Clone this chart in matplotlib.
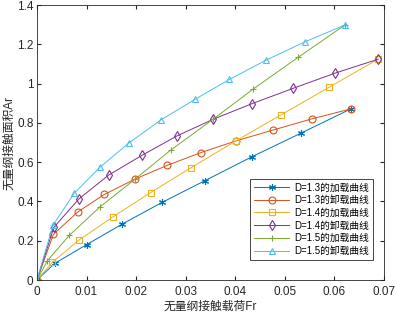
import matplotlib
matplotlib.use("Agg")
import matplotlib.pyplot as plt

plt.rcParams['font.family'] = ['Liberation Sans', 'Noto Sans CJK SC', 'DejaVu Sans']

# D=1.3 loading / unloading
fr_13_load = [0, 0.0036, 0.0100, 0.0172, 0.0253, 0.0339, 0.0434, 0.0532, 0.0633]
ar_13_load = [0, 0.085, 0.180, 0.285, 0.396, 0.506, 0.628, 0.747, 0.871]
fr_13_unload = [0, 0.0033, 0.0082, 0.0136, 0.0198, 0.0263, 0.0330, 0.0401, 0.0477, 0.0554, 0.0633]
ar_13_unload = [0, 0.232, 0.346, 0.436, 0.514, 0.584, 0.648, 0.708, 0.764, 0.820, 0.871]

# D=1.4
fr_14_load = [0, 0.0031, 0.0085, 0.0153, 0.0229, 0.0311, 0.0401, 0.0492, 0.0589, 0.0688]
ar_14_load = [0, 0.090, 0.204, 0.321, 0.445, 0.572, 0.708, 0.840, 0.981, 1.124]
fr_14_unload = [0, 0.0034, 0.0085, 0.0145, 0.0212, 0.0282, 0.0355, 0.0434, 0.0517, 0.0601, 0.0688]
ar_14_unload = [0, 0.268, 0.414, 0.535, 0.635, 0.733, 0.818, 0.898, 0.976, 1.053, 1.124]

# D=1.5
fr_15_load = [0, 0.0021, 0.0065, 0.0127, 0.0198, 0.0270, 0.0355, 0.0436, 0.0527, 0.0621]
ar_15_load = [0, 0.098, 0.227, 0.372, 0.514, 0.662, 0.818, 0.972, 1.134, 1.298]
fr_15_unload = [0, 0.0032, 0.0075, 0.0127, 0.0186, 0.0250, 0.0319, 0.0388, 0.0462, 0.0540, 0.0621]
ar_15_unload = [0, 0.278, 0.441, 0.574, 0.699, 0.815, 0.920, 1.021, 1.119, 1.212, 1.298]

labels = ['D=1.3的加载曲线', 'D=1.3的卸载曲线', 'D=1.4的加载曲线',
          'D=1.4的卸载曲线', 'D=1.5的加载曲线', 'D=1.5的卸载曲线']
colors = ['#0072BD', '#D95319', '#EDB120', '#7E2F8E', '#77AC30', '#4DBEEE']
markers = [(6, 2, 0), 'o', 's', 'd', '+', '^']

series = [(fr_13_load, ar_13_load), (fr_13_unload, ar_13_unload),
          (fr_14_load, ar_14_load), (fr_14_unload, ar_14_unload),
          (fr_15_load, ar_15_load), (fr_15_unload, ar_15_unload)]

fig = plt.figure(figsize=(3.96, 3.13), dpi=100)
ax = fig.add_axes([0.0934, 0.1054, 0.8763, 0.8786])

for (x, y), lab, c, m in zip(series, labels, colors, markers):
    ax.plot(x, y, color=c, marker=m, markersize=5, markerfacecolor='none',
            markeredgewidth=0.8, linewidth=0.7, label=lab)

ax.set_xlim(0, 0.07)
ax.set_ylim(0, 1.4)
ax.set_xticks([0, 0.01, 0.02, 0.03, 0.04, 0.05, 0.06, 0.07])
ax.set_xticklabels(['0', '0.01', '0.02', '0.03', '0.04', '0.05', '0.06', '0.07'])
ax.set_yticks([0, 0.2, 0.4, 0.6, 0.8, 1.0, 1.2, 1.4])
ax.set_yticklabels(['0', '0.2', '0.4', '0.6', '0.8', '1', '1.2', '1.4'])
ax.tick_params(direction='in', top=True, right=True, labelsize=8.5, length=3,
               colors='#262626')
ax.tick_params(axis='x', pad=4)
ax.tick_params(axis='y', pad=2.5)
for s in ax.spines.values():
    s.set_color('#262626')
    s.set_linewidth(0.6)

ax.set_xlabel('无量纲接触载荷Fr', fontsize=8.5, color='#262626', labelpad=2)
ax.set_ylabel('无量纲接触面积Ar', fontsize=8.5, color='#262626', labelpad=1)

leg = ax.legend(loc='lower right', bbox_to_anchor=(0.968, 0.073), fontsize=7,
                handlelength=3.6, fancybox=False, edgecolor='#262626',
                framealpha=1, borderaxespad=0, labelspacing=0.28,
                handletextpad=0.5, borderpad=0.4)
leg.get_frame().set_linewidth(0.6)

fig.savefig('out.png', dpi=100)
